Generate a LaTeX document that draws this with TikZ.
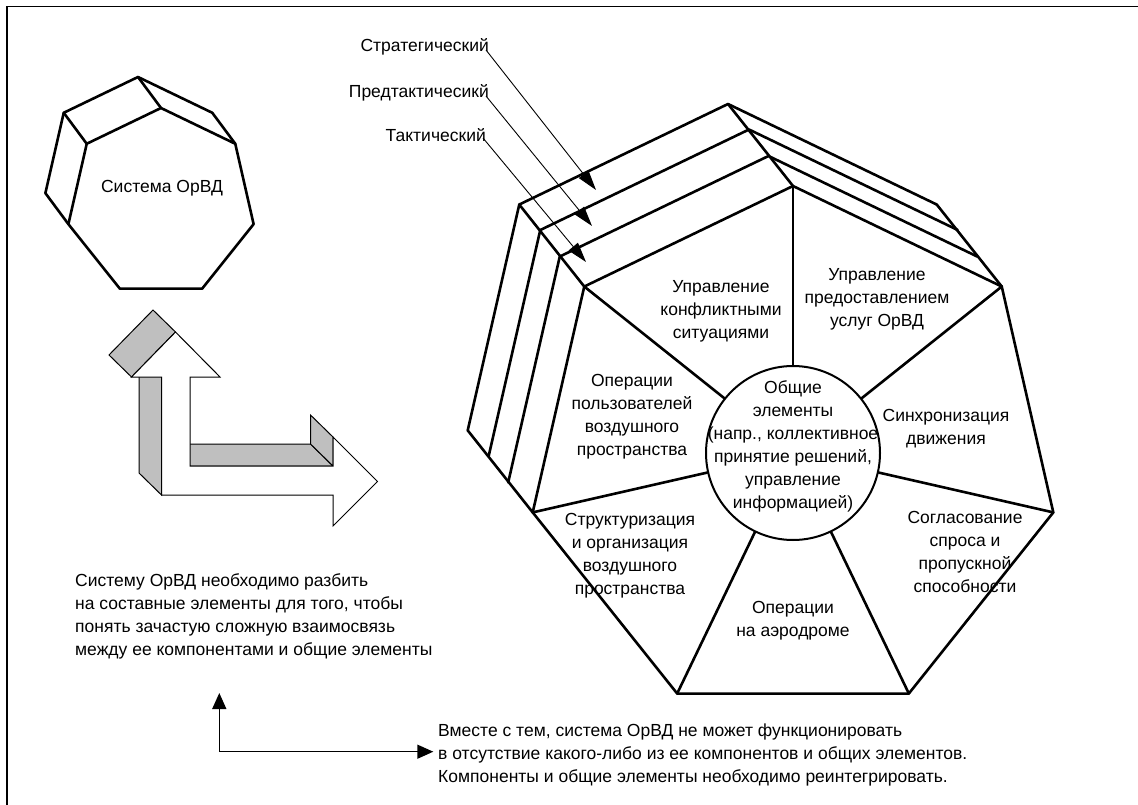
\documentclass[tikz,border=0pt]{standalone}
\usepackage{fontspec}
\setmainfont{Liberation Sans}
\usetikzlibrary{calc,arrows.meta}
\tikzset{
  edge/.style={line width=2.6pt, line cap=round, line join=round},
  sector/.style={align=center, inner sep=0pt, font=\fontsize{17.5}{23}\selectfont},
  note/.style={align=left, inner sep=0pt, font=\fontsize{17.5}{23}\selectfont},
  bevel/.style={fill=black!25, draw, line width=1pt},
  pointer/.style={line width=0.9pt, -{Triangle[length=20pt,width=12pt]}},
}

\begin{document}
\begin{tikzpicture}[x=1pt,y=-1pt]
  \useasboundingbox (0,0) rectangle (1138,805);
  \draw[line width=1.5pt] (7,805) -- (7,6.5) -- (1138,6.5);

  % small system block
  \coordinate (sctr) at (161,203);
  \foreach \i in {0,...,6}
    \coordinate (s\i) at ($(sctr)+({-90+\i*360/7}:95)$);
  \foreach \i in {5,6,0,1}
    \coordinate (sb\i) at ($(s\i)+(-23,-31)$);
  \draw[edge] (s0) -- (s1) -- (s2) -- (s3) -- (s4) -- (s5) -- (s6) -- cycle;
  \draw[edge] (sb5) -- (sb6) -- (sb0) -- (sb1);
  \foreach \i in {5,6,0,1}
    \draw[edge] (s\i) -- (sb\i);
  \node[sector] (sys) at (162,188) {Система ОрВД};

  % double arrow block
  \filldraw[bevel] (161.5,377) -- (161.5,495) -- ++(-22.5,-22) -- ++(0,-118) -- cycle;
  \filldraw[bevel] (131.5,377) -- (175.5,332) -- ++(-22.5,-22) -- ++(-44,45) -- cycle;
  \filldraw[bevel] (190,466) -- (333,466) -- ++(-22.5,-22) -- ++(-143,0) -- cycle;
  \filldraw[bevel] (333,466) -- (333,437) -- ++(-22.5,-22) -- ++(0,29) -- cycle;
  \filldraw[fill=white, line width=1pt] (175.5,332) -- (220,377) -- (190,377)
    -- (190,466) -- (333,466) -- (333,437) -- (377.5,481.5) -- (333,526)
    -- (333,495) -- (161.5,495) -- (161.5,377) -- (131.5,377) -- cycle;

  % big block with three layers
  \coordinate (ctr) at (793,453);
  \foreach \i in {0,...,6}
    \coordinate (f\i) at ($(ctr)+({-90+\i*360/7}:267)$);
  \foreach \i in {5,6,0,1} {
    \coordinate (la\i) at ($(f\i)+(-24.5,-30)$);
    \coordinate (lb\i) at ($(f\i)+(-44,-56.5)$);
    \coordinate (lc\i) at ($(f\i)+(-65,-82)$);
  }
  \foreach \l in {la,lb,lc}
    \draw[edge] (\l5) -- (\l6) -- (\l0) -- (\l1);
  \foreach \i in {5,6,0,1}
    \draw[edge] (f\i) -- (lc\i);
  \draw[edge] (f0) -- (f1) -- (f2) -- (f3) -- (f4) -- (f5) -- (f6) -- cycle;
  \node[circle, draw, line width=2pt, minimum size=174pt, inner sep=0pt] (core) at (ctr) {};
  \foreach \i in {0,...,6}
    \draw[edge] (core) -- (f\i);

  \node[sector] (common) at (793,446) {Общие\\элементы\\(напр., коллективное\\принятие решений,\\управление\\информацией)};
  \node[sector] (conflict) at (721,311) {Управление\\конфликтными\\ситуациями};
  \node[sector] (service) at (877,299) {Управление\\предоставлением\\услуг ОрВД};
  \node[sector] (sync) at (946,429) {Синхронизация\\движения};
  \node[sector] (demand) at (965,552) {Согласование\\спроса и\\пропускной\\способности};
  \node[sector] (aero) at (793,621) {Операции\\на аэродроме};
  \node[sector] (struct) at (630,556) {Структуризация\\и организация\\воздушного\\пространства};
  \node[sector] (users) at (632,417) {Операции\\пользователей\\воздушного\\пространства};

  % layer labels
  \node[sector, anchor=east] (strat) at (489,47) {Стратегический};
  \node[sector, anchor=east] (pretac) at (489,93) {Предтактичесикй};
  \node[sector, anchor=east] (tac) at (486,135) {Тактический};
  \coordinate (tip1) at (596,190);
  \coordinate (tip2) at (592,226);
  \coordinate (tip3) at (586,262);
  \draw[pointer] ($(strat.east)+(-3,3)$) -- (tip1);
  \draw[pointer] ($(pretac.east)+(-3,3)$) -- (tip2);
  \draw[pointer] ($(tac.east)+(-3,3)$) -- (tip3);

  % notes
  \node[note, anchor=west] (split) at (75,616) {Систему ОрВД необходимо разбить\\на составные элементы для того, чтобы\\понять зачастую сложную взаимосвязь\\между ее компонентами и общие элементы};
  \node[note, anchor=west] (merge) at (438,755) {Вместе с тем, система ОрВД не может функционировать\\в отсутствие какого-либо из ее компонентов и общих элементов.\\Компоненты и общие элементы необходимо реинтегрировать.};
  \coordinate (upend) at (219.3,693);
  \coordinate (rightend) at (433.3,751.7);
  \draw[line width=1.4pt, {Triangle[length=16pt,width=14pt]}-{Triangle[length=16pt,width=14pt]}]
    (upend) |- (rightend);
\end{tikzpicture}
\end{document}
